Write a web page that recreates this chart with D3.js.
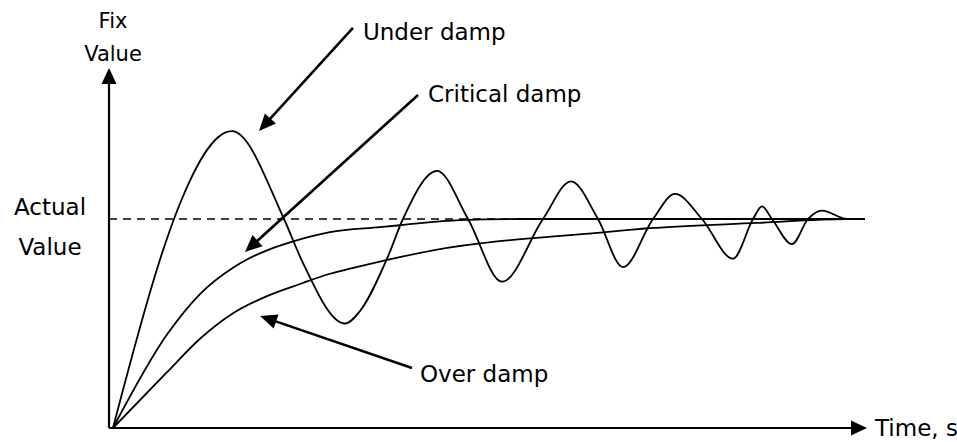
<!DOCTYPE html>
<html lang="en">
<head>
    <meta charset="UTF-8">
    <title>Damping response</title>
    <script src="https://d3js.org/d3.v7.min.js"></script>
    <style>
        body {background:#fff; margin:0}
        svg {display:block}
        text {font-family:"Comic Sans MS", "DejaVu Sans", sans-serif; fill:#000}
    </style>
</head>
<body>
<svg id="chart" width="957" height="442"></svg>

<script>
// time in arbitrary units (0..100), value relative to the set point (1 = actual value)
var underTime  = [0, 6.65, 8.11, 15.82, 22.74, 25.13, 30.85, 32.85, 36.44, 38.56, 43.09, 47.21, 51.73, 57.18, 60.90, 64.49, 67.82, 71.81, 74.73, 78.32, 82.45, 85.11, 86.30, 87.63, 90.29, 92.42, 94.28, 97.61, 100];
var underValue = [0, 0.85, 1.00, 1.42, 1.00, 0.80, 0.50, 0.56, 0.81, 1.00, 1.23, 1.00, 0.70, 1.00, 1.18, 1.00, 0.77, 1.00, 1.12, 1.00, 0.81, 1.00, 1.06, 1.00, 0.88, 1.00, 1.04, 1.00, 1.00];

var criticalTime  = [0, 7.18, 11.57, 15.96, 17.82, 20.48, 23.54, 28.86, 35.51, 38.16, 46.14, 55, 100];
var criticalValue = [0, 0.447, 0.641, 0.767, 0.806, 0.850, 0.888, 0.937, 0.961, 0.970, 0.995, 1.00, 1.00];

var overTime  = [0, 7.18, 11.57, 15.96, 20.48, 24.87, 28.86, 31.52, 42.55, 64.76, 71.41, 85.64, 97.61, 100];
var overValue = [0, 0.267, 0.427, 0.549, 0.631, 0.689, 0.738, 0.762, 0.850, 0.935, 0.956, 0.981, 1.00, 1.00];

var setPoint = 1;

// annotations: arrow start [t, v], arrow tip [t, v], label anchor [t, v]
var notes = [
    {"label": "Under damp",    "from": [31.91, 1.914], "to": [19.41, 1.421], "at": [33.24, 1.856]},
    {"label": "Critical damp", "from": [40.56, 1.593], "to": [17.55, 0.842], "at": [41.89, 1.560]},
    {"label": "Over damp",     "from": [39.76, 0.287], "to": [19.55, 0.536], "at": [40.82, 0.220]}
];

var svg = d3.select('#chart');
var x = d3.scaleLinear().domain([0, 100]).range([113, 865]);
var y = d3.scaleLinear().domain([0, 1]).range([428, 219]);
var axisX = 109;

function zip(ts, vs){
    return ts.map(function(t, i){ return [t, vs[i]]; });
}

function arrowHead(g, x1, y1, x2, y2, len, half){
    var a = Math.atan2(y2 - y1, x2 - x1);
    var bx = x2 - len * Math.cos(a), by = y2 - len * Math.sin(a);
    var px = -Math.sin(a) * half, py = Math.cos(a) * half;
    g.append("path")
        .attr("d", "M" + x2 + "," + y2 + "L" + (bx + px) + "," + (by + py) + "L" + (bx - px) + "," + (by - py) + "Z")
        .attr("fill", "#000");
}

// dashed set point line
svg.append("line")
    .attr("x1", axisX).attr("x2", x(100))
    .attr("y1", y(setPoint)).attr("y2", y(setPoint))
    .attr("stroke", "#000").attr("stroke-width", 1.6)
    .attr("stroke-dasharray", "8,6");

// response curves
var line = d3.line()
    .x(function(d){ return x(d[0]); })
    .y(function(d){ return y(d[1]); })
    .curve(d3.curveMonotoneX);

[zip(overTime, overValue), zip(criticalTime, criticalValue), zip(underTime, underValue)].forEach(function(s){
    svg.append("path")
        .attr("d", line(s))
        .attr("fill", "none")
        .attr("stroke", "#000")
        .attr("stroke-width", 1.8);
});

// axes
svg.append("line")
    .attr("x1", axisX).attr("x2", axisX)
    .attr("y1", y(0)).attr("y2", 80)
    .attr("stroke", "#000").attr("stroke-width", 2.2);
arrowHead(svg, axisX, y(0), axisX, 68, 16, 7.5);

svg.append("line")
    .attr("x1", axisX).attr("x2", 856)
    .attr("y1", y(0)).attr("y2", y(0))
    .attr("stroke", "#000").attr("stroke-width", 2.2);
arrowHead(svg, axisX, y(0), 867, y(0), 16, 7.5);

// axis labels
svg.append("text").attr("x", 113).attr("y", 28).attr("text-anchor", "middle").attr("font-size", 21).text("Fix");
svg.append("text").attr("x", 113).attr("y", 61).attr("text-anchor", "middle").attr("font-size", 21).text("Value");
svg.append("text").attr("x", 50).attr("y", 215).attr("text-anchor", "middle").attr("font-size", 23).text("Actual");
svg.append("text").attr("x", 50).attr("y", 255).attr("text-anchor", "middle").attr("font-size", 23).text("Value");
svg.append("text").attr("x", 875).attr("y", y(0) + 8).attr("font-size", 23).text("Time, s");

// annotations
notes.forEach(function(n){
    var x1 = x(n.from[0]), y1 = y(n.from[1]), x2 = x(n.to[0]), y2 = y(n.to[1]);
    var a = Math.atan2(y2 - y1, x2 - x1);
    svg.append("line")
        .attr("x1", x1).attr("y1", y1)
        .attr("x2", x2 - 12 * Math.cos(a)).attr("y2", y2 - 12 * Math.sin(a))
        .attr("stroke", "#000").attr("stroke-width", 2.6);
    arrowHead(svg, x1, y1, x2, y2, 17, 7.5);
    svg.append("text")
        .attr("x", x(n.at[0]))
        .attr("y", y(n.at[1]))
        .attr("font-size", 23)
        .text(n.label);
});
</script>
</body>
</html>
